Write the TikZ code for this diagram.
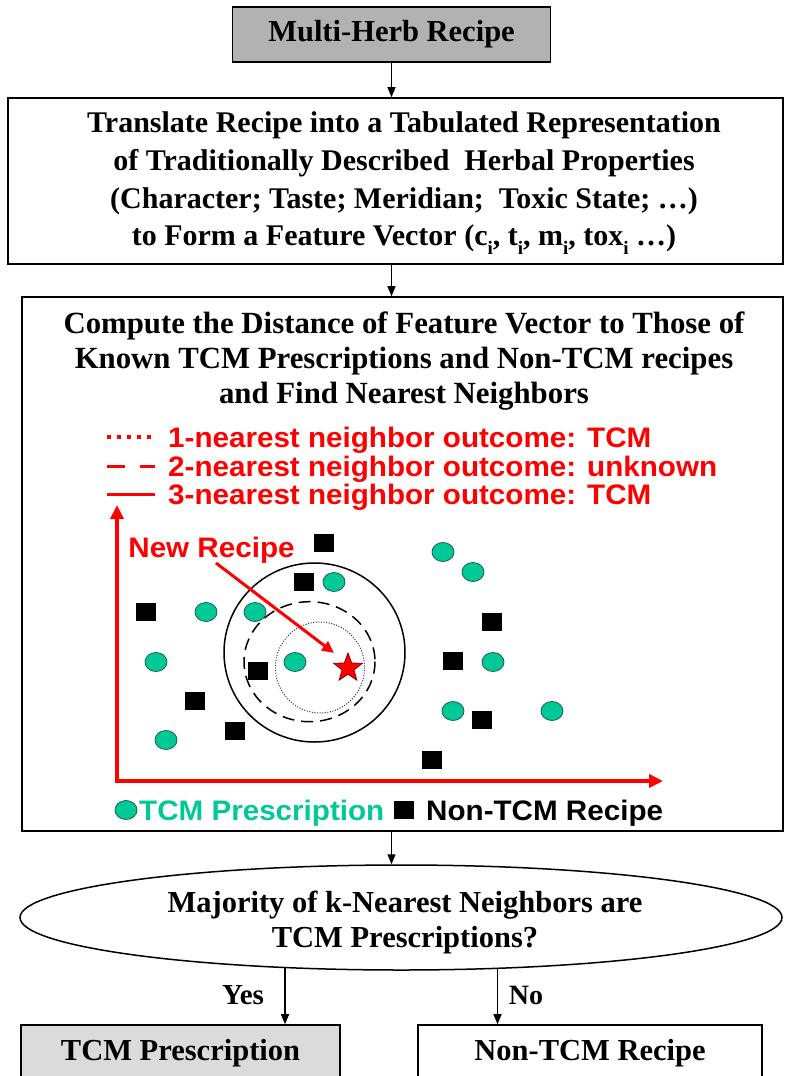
\documentclass[tikz,border=0pt]{standalone}
\usepackage{fontspec}
\setmainfont{Liberation Serif}
\newfontfamily\sansb[FakeStretch=1.05]{Liberation Sans}
\usetikzlibrary{shapes.geometric,arrows.meta}
\definecolor{tcm}{HTML}{00C896}
\definecolor{tcmdark}{HTML}{1E5E4C}
\newcommand\subi{\raisebox{-0.3em}{\fontsize{19}{19}\selectfont i}}
\begin{document}
\begin{tikzpicture}[x=1pt,y=-1pt,
  box/.style={draw, line width=1.6pt, inner sep=0pt},
  serif/.style={font=\fontsize{30.5}{37.7}\selectfont\bfseries, align=center},
  arr/.style={line width=1.3pt, -{Triangle[length=10pt,width=8pt]}},
  redtxt/.style={text=red, font=\sansb\bfseries\fontsize{28.2}{28.2}\selectfont, inner sep=0pt},
  sq/.style={rectangle, fill=black, minimum width=20pt, minimum height=18pt, inner sep=0pt},
  gc/.style={ellipse, fill=tcm, draw=tcmdark, line width=0.8pt, minimum width=22pt, minimum height=19pt, inner sep=0pt},
]
\clip (0,0) rectangle (785,1076);
\fill[white] (0,0) rectangle (785,1076);

% top box
\node[box, fill=gray!60, minimum width=318pt, minimum height=55pt, serif] (herb) at (391.5,34.5) {Multi-Herb Recipe};

% properties box
\node[box, minimum width=775pt, minimum height=166pt] (prop) at (395.5,181) {};
\node[serif, font=\fontsize{30}{37.7}\selectfont\bfseries] (proptext) at (404,183.5)
  {Translate Recipe into a Tabulated Representation\\
   of Traditionally Described\ \ Herbal Properties\\
   (Character; Taste; Meridian;\ \ Toxic State; …)\\
   to Form a Feature Vector (c\subi, t\subi, m\subi, tox\subi\ …)};

% knn box
\node[box, minimum width=761pt, minimum height=534pt] (knn) at (402.5,564) {};
\node[serif, font=\fontsize{30.8}{35}\selectfont\bfseries] (knntext) at (404,361)
  {Compute the Distance of Feature Vector to Those of\\
   Known TCM Prescriptions and Non-TCM recipes\\
   and Find Nearest Neighbors};

% legend of neighbourhoods
\draw[red, line width=3.5pt, dash pattern=on 3.5pt off 6.5pt] (107,437) -- (152,437);
\draw[red, line width=3.5pt, dash pattern=on 18pt off 15pt] (107,466.5) -- (155,466.5);
\draw[red, line width=3.5pt] (107,494.5) -- (155,494.5);
\node[redtxt, anchor=base west] (l1) at (168,447) {1-nearest neighbor outcome: TCM};
\node[redtxt, anchor=base west] (l2) at (168,476.5) {2-nearest neighbor outcome: unknown};
\node[redtxt, anchor=base west] (l3) at (168,504.5) {3-nearest neighbor outcome: TCM};

% axes
\coordinate (origin) at (117,781);
\coordinate (ytip) at (117,505);
\coordinate (xtip) at (663,781);
\draw[red, line width=4pt, {Triangle[length=14pt,width=13pt]}-{Triangle[length=14pt,width=13pt]}] (ytip) -- (origin) -- (xtip);

% scatter: non-TCM
\node[sq] (s1) at (324,543) {};
\node[sq] (s2) at (304,582) {};
\node[sq] (s3) at (146,612) {};
\node[sq] (s4) at (492,622) {};
\node[sq] (s5) at (453,661) {};
\node[sq] (s6) at (258,671) {};
\node[sq] (s7) at (195,701) {};
\node[sq] (s8) at (235,731) {};
\node[sq] (s9) at (482,720) {};
\node[sq] (s10) at (432,760) {};
% scatter: TCM
\node[gc] (c1) at (443,552) {};
\node[gc] (c2) at (473,572) {};
\node[gc] (c3) at (334,582) {};
\node[gc] (c4) at (206,612) {};
\node[gc] (c5) at (255,612) {};
\node[gc] (c6) at (156,662) {};
\node[gc] (c7) at (295,662) {};
\node[gc] (c8) at (493,662) {};
\node[gc] (c9) at (453,711) {};
\node[gc] (c10) at (552,711) {};
\node[gc] (c11) at (166,740) {};

% neighbourhood circles
\draw[line width=1.5pt] (314.5,652.5) ellipse [x radius=90.5, y radius=89.5];
\draw[line width=1.5pt, dash pattern=on 12pt off 7pt] (309.5,661.7) ellipse [x radius=65.5, y radius=60];
\draw[line width=1pt, gray!40!black, dash pattern=on 1pt off 1.6pt] (320,667.5) ellipse [x radius=44.6, y radius=45.5];

% new recipe
\node[star, star points=5, star point ratio=2.4, minimum size=30pt, inner sep=0pt, fill=red, draw=red!50!black, line width=0.8pt] (newstar) at (348,668) {};
\node[redtxt, anchor=base] (newr) at (211.5,557) {New Recipe};
\coordinate (nrs) at (216,563);
\coordinate (nre) at (334,653);
\draw[red, line width=3pt, -{Triangle[length=12pt,width=11pt]}] (nrs) -- (nre);

% bottom legend
\node[gc] (lg) at (126,810) {};
\node[redtxt, text=tcm, anchor=base west] (lgt) at (139,820) {TCM Prescription};
\node[sq] (ls) at (404,810) {};
\node[redtxt, text=black, anchor=base west] (lst) at (426,820) {Non-TCM Recipe};

% decision
\node[ellipse, draw, line width=1.5pt, minimum width=762pt, minimum height=105pt, inner sep=0pt] (dec) at (401,917.5) {};
\node[serif, font=\fontsize{30.5}{35}\selectfont\bfseries] (dectext) at (405,922.5)
  {Majority of k-Nearest Neighbors are\\ TCM Prescriptions?};

% outcome boxes
\node[box, fill=gray!28, minimum width=319pt, minimum height=56pt, serif] (tcmbox) at (180.5,1053) {TCM Prescription};
\node[box, minimum width=344pt, minimum height=56pt, serif] (nonbox) at (590,1053) {Non-TCM Recipe};

% connectors
\draw[arr] (herb.south) -- (herb.south |- prop.north);
\draw[arr] (prop.south -| herb.south) -- (knn.north -| herb.south);
\draw[arr] (knn.south -| herb.south) -- (dec.north -| herb.south);
\coordinate (ys) at (285,967.5);
\coordinate (ns) at (497.5,968.3);
\draw[arr] (ys) -- (ys |- tcmbox.north);
\draw[arr] (ns) -- (ns |- nonbox.north);
\node[font=\fontsize{29}{29}\selectfont\bfseries] (yes) at (243,995) {Yes};
\node[font=\fontsize{28}{28}\selectfont\bfseries] (no) at (526,995) {No};
\end{tikzpicture}
\end{document}
